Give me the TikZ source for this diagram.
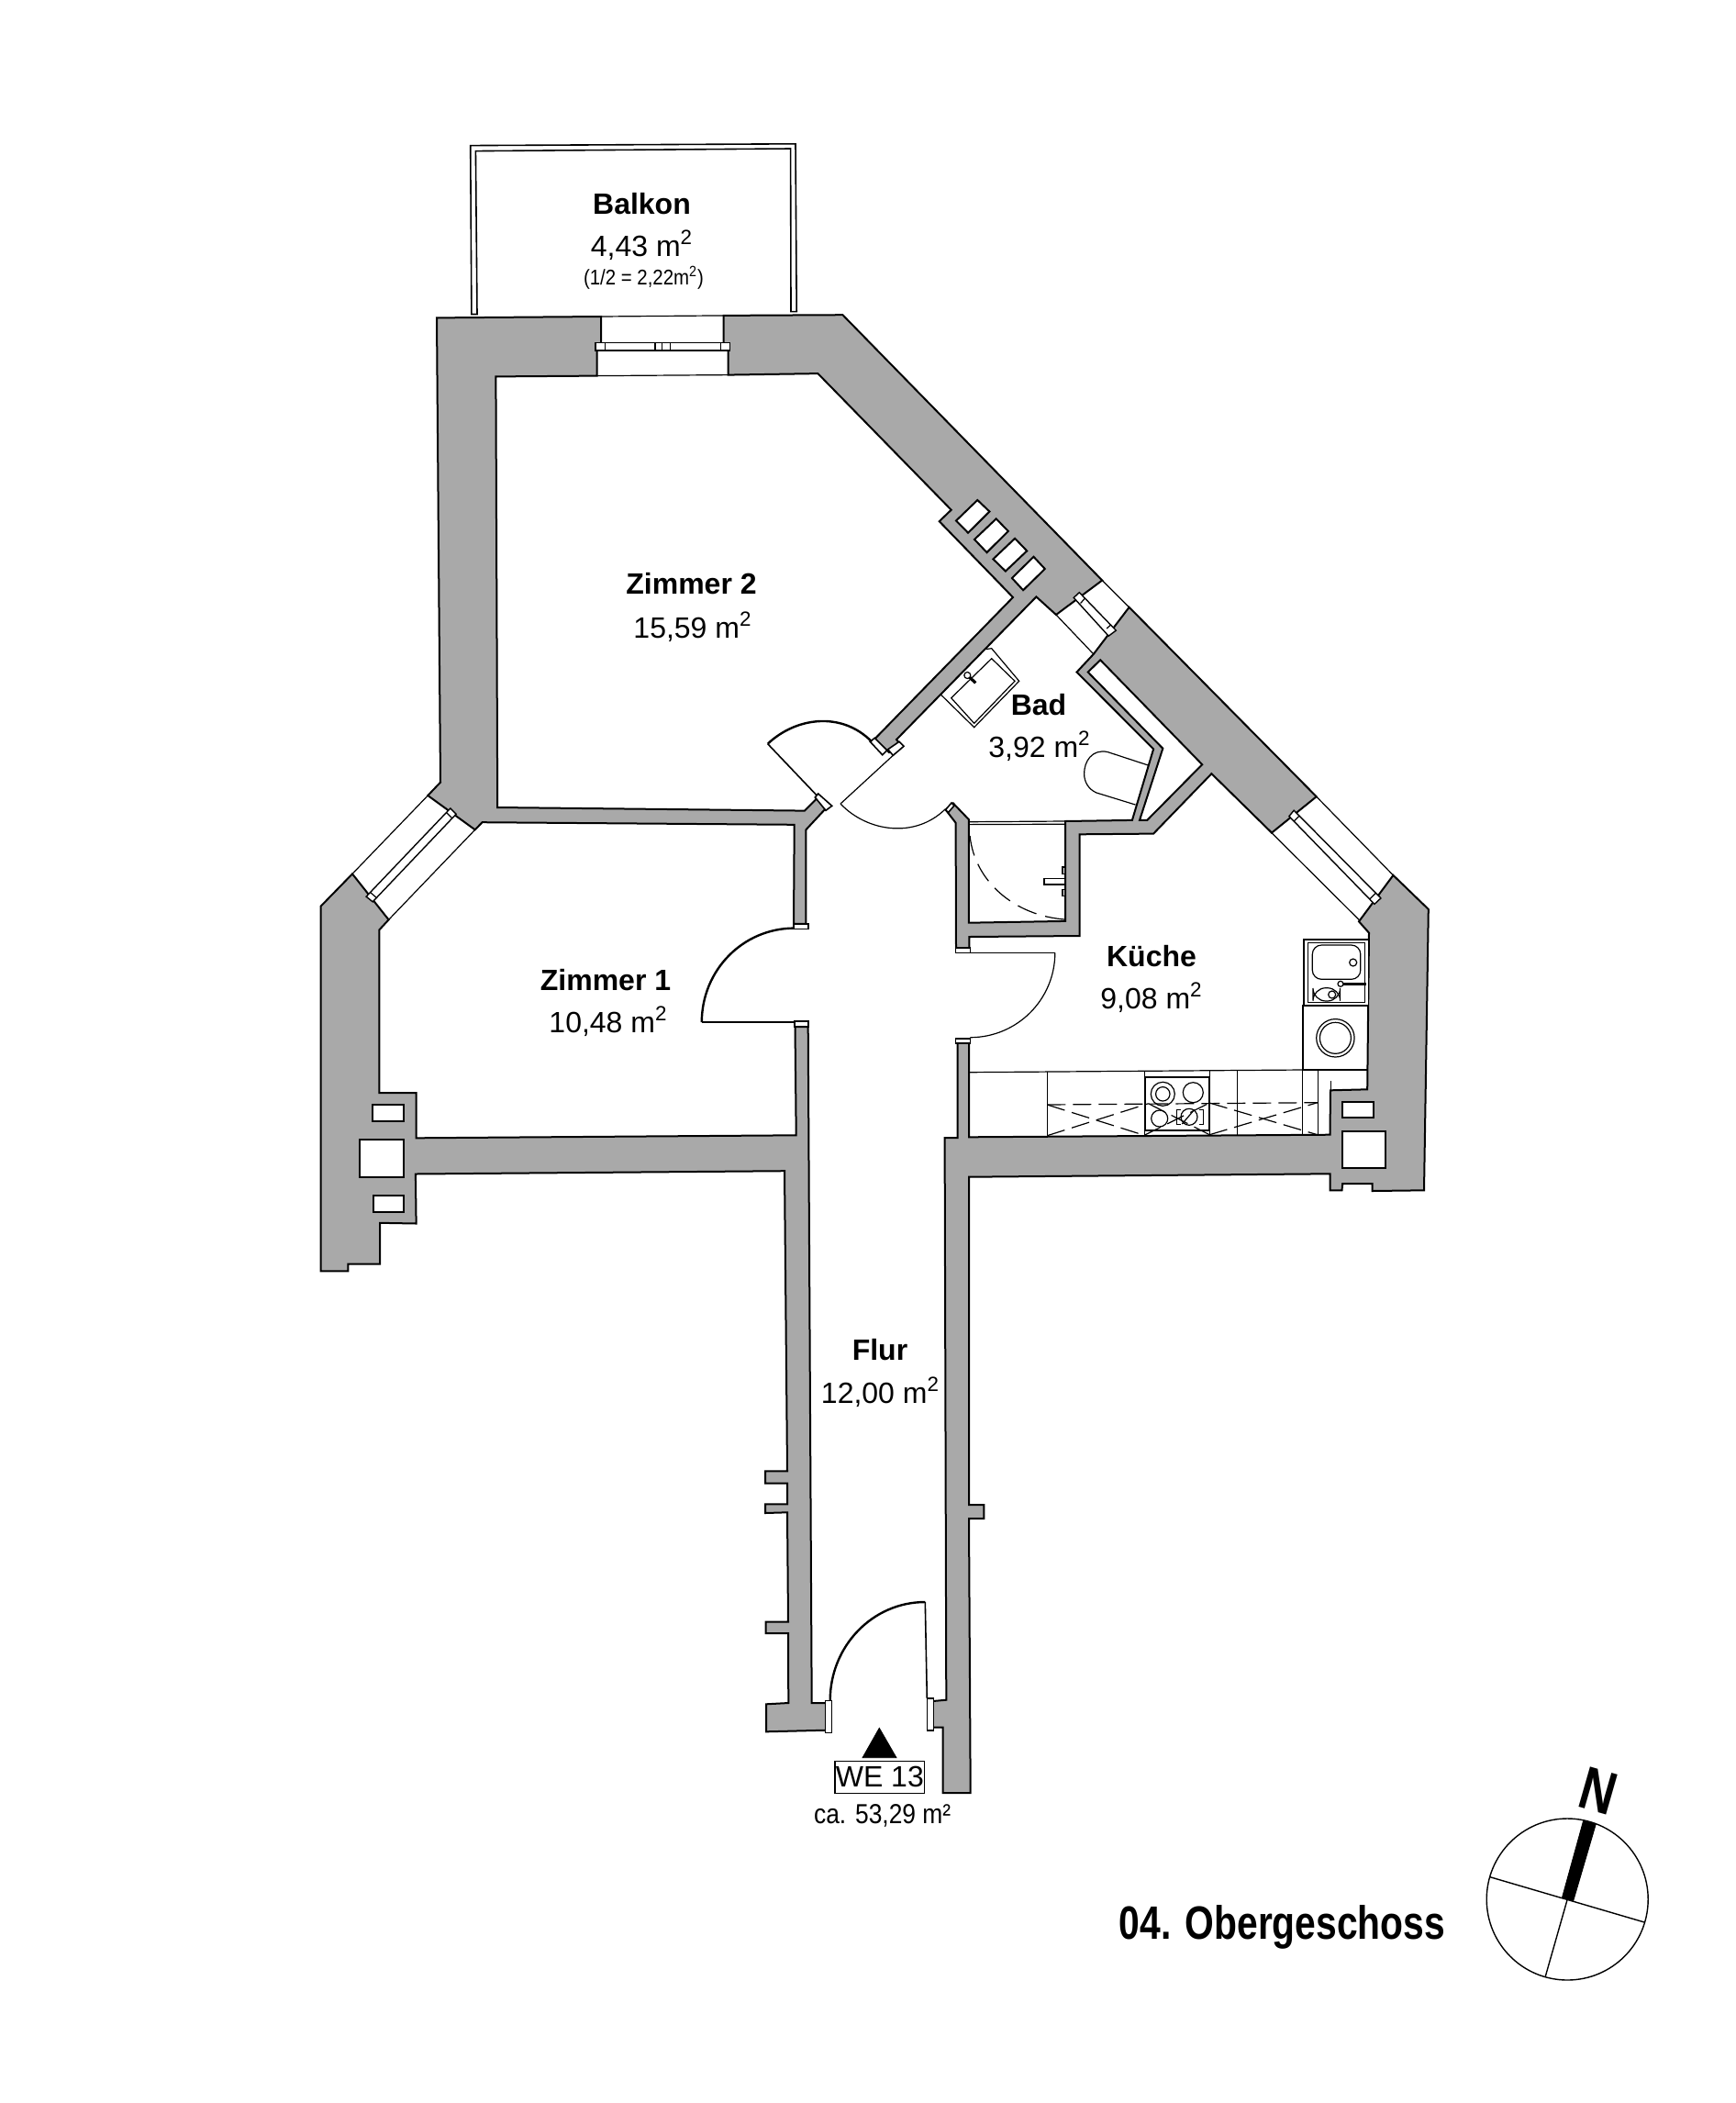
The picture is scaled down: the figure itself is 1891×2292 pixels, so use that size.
\documentclass[tikz,border=0pt]{standalone}
\usepackage{fontspec}
\setmainfont{Liberation Sans}
\newfontfamily\narrowfont[FakeStretch=0.88]{Liberation Sans}
\newfontfamily\titlefont[FakeStretch=0.8]{Liberation Sans}
\definecolor{wallgray}{HTML}{A9A9A9}
\tikzset{
	wall/.style={draw, fill=wallgray, line width=1pt, line join=miter},
	shaft/.style={draw, fill=white, line width=1pt},
	thin line/.style={draw, line width=0.6pt},
	frame/.style={draw, fill=white, line width=0.7pt},
	jamb/.style={draw, fill=white, line width=0.8pt},
	leaf/.style={draw, line width=1.2pt},
	hatch/.style={draw, line width=0.6pt, dash pattern=on 10pt off 4pt},
	roomname/.style={font=\bfseries\fontsize{16}{17}\selectfont, anchor=base, inner sep=0},
	roomarea/.style={font=\fontsize{16}{17}\selectfont, anchor=base, inner sep=0}
}

\begin{document}
\begin{tikzpicture}[x=0.5pt, y=-0.5pt]
	\useasboundingbox (0, 0) rectangle (1891, 2292);

	% balcony
	\draw[thin line, line width=0.8pt] (513.9, 342.5) -- (512.7, 158.6) -- (867, 156.8) -- (868.2, 339.6) -- (862, 339.6) -- (861.6, 162) -- (518.4, 164.6) -- (520, 342.5) -- cycle;

	% walls
	\draw[wall] (476, 346.4) -- (655, 345) -- (655, 373) -- (650.6, 382) -- (650.6, 409.6) -- (540.4, 410.4) -- (542.2, 880) -- (876.8, 883.6) -- (891.4, 869) -- (901, 880) -- (878.3, 904.4) -- (878.3, 1006.8) -- (865, 1006.8) -- (865.7, 898.8) -- (525.6, 896.2) -- (517.7, 904.3) -- (466.3, 867) -- (480, 852.6) -- cycle;
	\draw[wall] (384, 952.4) -- (349.7, 987.6) -- (349.7, 1385.3) -- (379.3, 1385.3) -- (379.3, 1377.5) -- (414, 1377.5) -- (414, 1332.8) -- (453.6, 1333.5) -- (452.9, 1279.5) -- (855, 1276.2) -- (858, 1603.3) -- (834, 1603.3) -- (834, 1616.7) -- (858, 1616.7) -- (858, 1639.3) -- (834, 1639.3) -- (834, 1649) -- (858, 1648.3) -- (859, 1767.7) -- (834.7, 1767.7) -- (834.7, 1780) -- (859, 1780) -- (859.3, 1856) -- (835, 1857.3) -- (835, 1887.3) -- (900, 1885.7) -- (900, 1856) -- (884.7, 1856) -- (880.7, 1119) -- (866.5, 1119) -- (867.7, 1237.3) -- (453.6, 1240.3) -- (453.6, 1191) -- (413.3, 1191) -- (413.3, 1013.5) -- (423.6, 1002.4) -- cycle;
	\draw[wall] (788.6, 343.9) -- (918.4, 343.2) -- (1201.2, 632.5) -- (1151, 670) -- (1129.4, 650.4) -- (977, 806) -- (981, 811) -- (969, 820) -- (953, 805.7) -- (1104, 651) -- (1023.7, 568.2) -- (1036.7, 555.7) -- (891.4, 407.1) -- (793.5, 408.6) -- (793.5, 382) -- (788.6, 373) -- cycle;
	\draw[wall] (1230.6, 661.8) -- (1434.7, 868.2) -- (1386, 907.6) -- (1320.4, 843.2) -- (1257.1, 908.6) -- (1176.7, 909.3) -- (1176.7, 1020) -- (1056.3, 1021) -- (1056.3, 1033) -- (1042, 1033) -- (1041.6, 896.8) -- (1030.6, 882.5) -- (1038.8, 875.4) -- (1055.9, 893.2) -- (1055.9, 1005.7) -- (1161.2, 1003.9) -- (1161.2, 895) -- (1233.9, 893.9) -- (1257.1, 816.4) -- (1173.5, 732.5) -- (1191.8, 712.9) -- cycle;
	\draw[wall] (1518.4, 953.9) -- (1556.8, 991) -- (1552, 1297.3) -- (1495.7, 1298) -- (1495.7, 1290) -- (1463.2, 1290) -- (1462.5, 1297.3) -- (1449.5, 1297.3) -- (1449.5, 1279.3) -- (1056.2, 1282.7) -- (1056, 1640) -- (1072.3, 1640) -- (1072.3, 1655) -- (1056, 1655) -- (1057.7, 1954) -- (1027.7, 1954) -- (1027.7, 1882.7) -- (1016.7, 1882.7) -- (1016.7, 1854) -- (1031.3, 1852.7) -- (1029.6, 1240) -- (1043.7, 1240) -- (1043.7, 1136.7) -- (1056.2, 1136.7) -- (1056.2, 1239.3) -- (1449.5, 1236.7) -- (1450, 1188.3) -- (1490.2, 1187.3) -- (1492, 1016.7) -- (1481, 1004.3) -- cycle;

	% shafts
	\draw[shaft] (1185.7, 732.5) -- (1199.2, 719.3) -- (1310.2, 833.2) -- (1250.2, 893.9) -- (1242, 893.9) -- (1267.3, 815.7) -- cycle;
	\draw[shaft] (1065.3, 545) -- (1078.4, 557.5) -- (1055.1, 580.7) -- (1042, 567.5) -- cycle;
	\draw[shaft] (1085.7, 565.4) -- (1098.8, 578.9) -- (1075.5, 602.1) -- (1062, 587.9) -- cycle;
	\draw[shaft] (1106.1, 586.8) -- (1119.2, 600.4) -- (1095.9, 622.5) -- (1082.4, 609.3) -- cycle;
	\draw[shaft] (1126.5, 606.8) -- (1138.8, 620) -- (1115.1, 643.2) -- (1102.9, 630) -- cycle;
	\draw[shaft] (406.2, 1204) rectangle (439.8, 1221.8);
	\draw[shaft] (392.4, 1241.8) rectangle (439.8, 1283.2);
	\draw[shaft] (407, 1303.1) rectangle (440.2, 1321.3);
	\draw[shaft] (1463.2, 1201.3) rectangle (1496.5, 1218.3);
	\draw[shaft] (1462.5, 1232.7) rectangle (1509.8, 1273.3);

	% windows
	\draw[thin line] (655, 345) -- (788.6, 343.9);
	\draw[thin line] (650.6, 409.6) -- (793.5, 408.6);
	\draw[frame] (649, 373.6) rectangle (795.5, 382.1);
	\foreach \xpos in {659.2, 713.9, 721.2, 730.2, 785.3}
		\draw[thin line] (\xpos, 373.6) -- (\xpos, 382.1);
	\draw[thin line] (384, 952.4) -- (466.3, 867);
	\draw[thin line] (423.6, 1002.4) -- (517.7, 904.3);
	\draw[frame] (399.1, 977.2) -- (490.8, 881) -- (497.1, 887.3) -- (406.2, 982.8) -- cycle;
	\draw[thin line] (403.5, 972.5) -- (410.5, 978.5);
	\draw[thin line] (486.5, 885.5) -- (493, 892);
	\draw[thin line] (1434.7, 868.2) -- (1518.4, 953.9);
	\draw[thin line] (1385.7, 907.5) -- (1481.6, 1002.9);
	\draw[frame] (1404.9, 889.6) -- (1410.2, 883.2) -- (1504.9, 978.9) -- (1498, 985.4) -- cycle;
	\draw[thin line] (1410.2, 895) -- (1416.3, 888.9);
	\draw[thin line] (1492.7, 980) -- (1499.2, 973.6);
	\draw[thin line] (1201.2, 632.5) -- (1230.6, 661.8);
	\draw[thin line] (1151, 670) -- (1191.8, 712.9);
	\draw[frame] (1170.2, 651.4) -- (1176.3, 645.7) -- (1216.3, 687.1) -- (1208.2, 693.2) -- cycle;
	\draw[thin line] (1177.6, 657.5) -- (1182.4, 652.1);
	\draw[thin line] (1206.1, 685) -- (1211, 680.7);

	% doors
	\draw[jamb] (865, 1006.8) rectangle (880.7, 1012.4);
	\draw[jamb] (865.7, 1113) rectangle (880.7, 1119);
	\draw[leaf] (865.7, 1011.6) .. controls (809.7, 1011.6) and (764.8, 1057.4) .. (764.8, 1114.1);
	\draw[thin line, line width=0.8pt] (764.8, 1114.1) -- (865.7, 1114.1);
	\draw[jamb] (888.3, 869) -- (891.7, 865) -- (906.7, 878.3) -- (900, 883.3) -- cycle;
	\draw[jamb] (948.3, 808.3) -- (953.3, 804.3) -- (966.7, 817.7) -- (961.7, 822.7) -- cycle;
	\draw[jamb] (967.7, 816.7) -- (980, 808.3) -- (985, 813.3) -- (973.3, 823.3) -- cycle;
	\draw[leaf] (950, 808.3) .. controls (917.6, 775.2) and (867.8, 781.3) .. (836.7, 810.7);
	\draw[thin line, line width=0.8pt] (836.7, 810.7) -- (890, 866.7);
	\draw[thin line] (973.3, 823.3) -- (916, 876);
	\draw[thin line] (916, 876) .. controls (945.3, 906.9) and (997.4, 914) .. (1030, 882);
	\draw[jamb] (1030.6, 882.5) -- (1037, 875) -- (1040, 878) -- (1033.5, 885.5) -- cycle;
	\draw[jamb] (1041.4, 1032.7) rectangle (1057.3, 1038.3);
	\draw[jamb] (1041.4, 1131.7) rectangle (1057.3, 1136.7);
	\draw[thin line] (1057.3, 1038.3) -- (1149.8, 1038.3);
	\draw[thin line] (1149.8, 1038.3) .. controls (1149.8, 1089.4) and (1108.4, 1130.7) .. (1057.3, 1130.7);
	\draw[jamb] (899.3, 1853.3) rectangle (906.3, 1888.3);
	\draw[jamb] (1010.3, 1851) rectangle (1017.3, 1886);
	\draw[leaf] (904.7, 1853.3) .. controls (904.7, 1794) and (951, 1746) .. (1008.3, 1746);
	\draw[thin line, line width=0.8pt] (1008.3, 1746) -- (1010.3, 1851);

	% bathroom
	\draw[thin line] (1074.7, 707.5) -- (1080.7, 706.7) -- (1110.7, 742.3) -- (1061.7, 792.7) -- (1025, 756.7);
	\draw[thin line] (1080.7, 717.7) -- (1106, 742.3) -- (1061.7, 788.3) -- (1036.7, 760.7) -- cycle;
	\draw[line width=1.6pt] (1054.3, 736) -- (1063.3, 744.3);
	\draw[thin line, fill=white] (1054.3, 736) circle (3.5);
	\draw[thin line] (1252.2, 834.3) -- (1207, 819.5) .. controls (1190, 816) and (1181.6, 830) .. (1181.6, 843.2) .. controls (1181.6, 852) and (1186, 860) .. (1195, 864) -- (1237.6, 877.1);
	\draw[thin line] (1056.8, 895.7) -- (1161, 895);
	\draw[thin line] (1056.8, 898.6) -- (1161, 898.2);
	\draw[thin line, dash pattern=on 11pt off 5pt] (1057.1, 911) .. controls (1062, 960) and (1105, 998) .. (1161.2, 1002.1);
	\draw[thin line] (1138, 957.5) rectangle (1161.2, 964);
	\draw[thin line] (1158, 945) rectangle (1161.2, 952.1);
	\draw[thin line] (1158, 969.3) rectangle (1161.2, 976.4);

	% kitchen
	\draw[thin line] (1056.2, 1168.7) -- (1419.9, 1166) -- (1490.2, 1166);
	\draw[thin line] (1419.9, 1096) rectangle (1490.2, 1166);
	\draw[frame] (1421, 1024) rectangle (1491.3, 1096);
	\draw[thin line] (1425.5, 1027.7) rectangle (1487.6, 1092.7);
	\draw[thin line, rounded corners=5pt] (1430.3, 1030) rectangle (1482.8, 1067.3);
	\draw[thin line] (1474.7, 1049) circle (4);
	\draw[line width=1.2pt] (1458.7, 1072.3) -- (1489, 1072.3);
	\draw[thin line, fill=white] (1461, 1072.3) circle (3);
	\draw[thin line, rounded corners=7pt] (1431, 1076.7) rectangle (1460.6, 1091);
	\draw[thin line] (1451.7, 1084) circle (4);
	\draw[thin line] (1455.4, 1131.3) circle (20.7);
	\draw[thin line] (1455.4, 1131.3) circle (17);
	\foreach \xpos/\ytop in {1141.3/1168, 1247.1/1167, 1318.2/1167, 1348.5/1166.5, 1419.2/1166, 1436.6/1166}
		\draw[thin line] (\xpos, \ytop) -- (\xpos, 1237);
	\draw[thin line] (1450.2, 1178.3) -- (1450.2, 1188);
	\draw[thin line, line width=0.8pt] (1248.3, 1174) rectangle (1317.3, 1231.7);
	\draw[thin line] (1267.3, 1192.3) circle (13);
	\draw[thin line] (1267.3, 1192.3) circle (7.7);
	\draw[thin line] (1300.3, 1190.7) circle (11);
	\draw[thin line] (1263.7, 1219) circle (9);
	\draw[thin line] (1296, 1217.3) circle (9);
	\draw[thin line] (1286.7, 1209.3) -- (1282.7, 1209.3) -- (1282.7, 1225.3) -- (1286.7, 1225.3);
	\draw[thin line] (1307.3, 1209.3) -- (1311.3, 1209.3) -- (1311.3, 1225.3) -- (1307.3, 1225.3);
	\draw[thin line] (1288.3, 1225) -- (1301.7, 1209.3);
	\draw[hatch] (1141.3, 1204) -- (1435.8, 1201.7);
	\draw[hatch] (1141.3, 1204) -- (1247.1, 1237.3);
	\draw[hatch] (1141.3, 1237.7) -- (1251.6, 1202.7);
	\draw[hatch] (1251.6, 1202.7) -- (1318.2, 1236.7);
	\draw[hatch] (1247.1, 1237.3) -- (1318.2, 1202);
	\draw[hatch] (1318.2, 1202) -- (1435.8, 1236.7);
	\draw[hatch] (1318.2, 1236.7) -- (1435.8, 1201.7);

	% entrance marker
	\draw[fill=black] (958.3, 1883.3) -- (940, 1915.7) -- (977, 1915.7) -- cycle;
	\node[draw, line width=0.6pt, minimum width=48.8pt, minimum height=17.5pt, inner sep=0, font=\fontsize{16}{17}\selectfont] (we13) at (958.8, 1936.8) {WE 13};
	\node[font=\narrowfont\fontsize{15}{16}\selectfont, anchor=base, inner sep=0] (total) at (961.7, 1987) {ca. 53,29 m²};

	% room labels
	\node[roomname] (balkon) at (699.5, 233.6) {Balkon};
	\node[roomarea] (balkon_a) at (699.5, 279.3) {4,43 m\textsuperscript{2}};
	\node[font=\narrowfont\fontsize{11.6}{12}\selectfont, anchor=base, inner sep=0] (balkon_aa) at (701.5, 310.4) {(1/2 = 2,22m\textsuperscript{2})};
	\node[roomname] (zimmer2) at (753.5, 647) {Zimmer 2};
	\node[roomarea] (zimmer2_a) at (755, 695) {15,59 m\textsuperscript{2}};
	\node[roomname] (zimmer1) at (660, 1079.7) {Zimmer 1};
	\node[roomarea] (zimmer1_a) at (663, 1125.2) {10,48 m\textsuperscript{2}};
	\node[roomname] (bad) at (1132, 779) {Bad};
	\node[roomarea] (bad_a) at (1133, 825) {3,92 m\textsuperscript{2}};
	\node[roomname] (kueche) at (1255, 1053.3) {Küche};
	\node[roomarea] (kueche_a) at (1255, 1099.3) {9,08 m\textsuperscript{2}};
	\node[roomname] (flur) at (959, 1482.7) {Flur};
	\node[roomarea] (flur_a) at (959.5, 1529) {12,00 m\textsuperscript{2}};

	% title and compass
	\node[font=\titlefont\bfseries\fontsize{25.5}{26}\selectfont, anchor=base, inner sep=0] (title) at (1397.5, 2113) {04. Obergeschoss};
	\draw[line width=0.7pt] (1708.2, 2070) circle (88);
	\draw[line width=0.7pt] (1624, 2045.7) -- (1792.2, 2095);
	\draw[line width=0.7pt] (1708.2, 2070) -- (1684, 2155);
	\draw[fill=black] (1702.4, 2068.3) -- (1714.7, 2071.7) -- (1739.2, 1988.3) -- (1725.7, 1984) -- cycle;
	\node[font=\titlefont\bfseries\fontsize{33}{34}\selectfont, rotate=-16, inner sep=0] (north) at (1742.4, 1952.3) {N};
\end{tikzpicture}
\end{document}
